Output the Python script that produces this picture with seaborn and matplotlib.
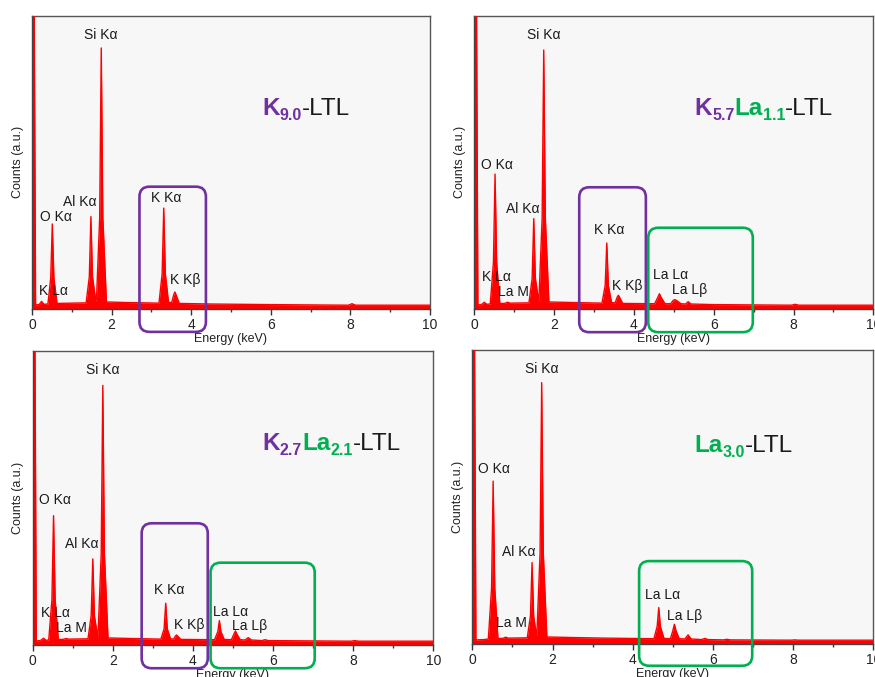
import matplotlib
matplotlib.use("Agg")
import matplotlib.pyplot as plt
import seaborn as sns
import pandas as pd
from matplotlib.patches import FancyBboxPatch
from matplotlib.ticker import MultipleLocator

# ---------------- data (counts in % of axis height) ----------------
energy_p1 = [0.00, 0.05, 0.09, 0.18, 0.24, 0.30, 0.40, 0.47, 0.51, 0.55, 0.63, 1.00,
             1.36, 1.44, 1.48, 1.52, 1.60, 1.62, 1.70, 1.74, 1.78, 1.87, 2.40,
             3.19, 3.27, 3.31, 3.35, 3.43, 3.51, 3.56, 3.59, 3.62, 3.70, 4.50, 6.00,
             7.95, 8.04, 8.13, 10.00]
counts_p1 = [120, 120, 1.4, 1.5, 2.6, 1.6, 1.7, 10.5, 29.0, 10.5, 1.9, 2.0,
             2.1, 11.0, 31.5, 11.0, 3.0, 3.2, 31.0, 89.0, 31.0, 2.4, 2.2,
             2.0, 12.0, 34.4, 12.0, 2.3, 2.2, 4.8, 5.8, 4.8, 1.9, 1.7, 1.5,
             1.3, 1.8, 1.3, 1.3]

energy_p2 = [0.00, 0.05, 0.09, 0.18, 0.25, 0.31, 0.40, 0.48, 0.52, 0.56, 0.64,
             0.76, 0.83, 0.90, 1.37, 1.45, 1.49, 1.53, 1.61, 1.62, 1.70, 1.74, 1.78, 1.87,
             2.50, 3.20, 3.28, 3.32, 3.36, 3.44, 3.53, 3.58, 3.61, 3.64, 3.72,
             4.52, 4.60, 4.64, 4.68, 4.78, 4.92, 4.99, 5.03, 5.08, 5.18,
             5.30, 5.36, 5.43, 6.00, 7.95, 8.04, 8.13, 10.00]
counts_p2 = [120, 120, 1.4, 1.5, 2.3, 1.6, 1.7, 16.0, 46.0, 16.0, 1.9,
             1.9, 2.3, 2.0, 2.1, 10.5, 30.8, 10.5, 3.0, 3.2, 31.0, 88.3, 31.0, 2.4,
             2.2, 2.0, 8.0, 22.5, 8.0, 2.2, 2.1, 4.0, 4.7, 4.0, 1.9,
             1.8, 4.0, 5.2, 4.0, 1.8, 1.8, 3.0, 3.2, 2.8, 1.8,
             1.7, 2.5, 1.7, 1.5, 1.3, 1.6, 1.3, 1.3]

energy_p3 = [0.00, 0.05, 0.09, 0.19, 0.27, 0.33, 0.40, 0.48, 0.52, 0.56, 0.64,
             0.76, 0.83, 0.90, 1.38, 1.46, 1.50, 1.54, 1.62, 1.63, 1.71, 1.75, 1.79, 1.88,
             2.50, 3.20, 3.28, 3.32, 3.36, 3.44, 3.52, 3.56, 3.59, 3.62, 3.70,
             4.54, 4.62, 4.66, 4.70, 4.78, 4.96, 5.02, 5.06, 5.10, 5.18,
             5.30, 5.38, 5.46, 5.72, 5.80, 5.88, 7.95, 8.04, 8.13, 10.00]
counts_p3 = [120, 120, 1.4, 1.5, 2.3, 1.6, 1.7, 15.5, 44.0, 15.5, 1.9,
             1.9, 2.2, 2.0, 2.1, 10.0, 29.3, 10.0, 3.0, 3.2, 31.0, 88.3, 31.0, 2.4,
             2.2, 2.0, 5.5, 14.2, 5.5, 2.1, 2.0, 3.0, 3.4, 3.0, 1.9,
             1.8, 4.5, 8.3, 4.5, 1.9, 1.8, 3.6, 4.8, 3.6, 1.8,
             1.7, 2.5, 1.7, 1.5, 1.8, 1.5, 1.3, 1.5, 1.3, 1.3]

energy_p4 = [0.00, 0.05, 0.09, 0.30, 0.40, 0.48, 0.52, 0.56, 0.64,
             0.76, 0.83, 0.90, 1.37, 1.45, 1.49, 1.53, 1.60, 1.61, 1.69, 1.73, 1.77, 1.86,
             2.50, 3.30, 4.53, 4.61, 4.65, 4.69, 4.78, 4.94, 5.00, 5.04, 5.08, 5.16,
             5.30, 5.38, 5.46, 5.72, 5.80, 5.88, 6.27, 6.35, 6.43, 7.95, 8.04, 8.13, 10.00]
counts_p4 = [120, 120, 1.4, 1.5, 1.7, 19.0, 55.4, 19.0, 1.9,
             1.9, 2.3, 2.0, 2.1, 9.5, 27.7, 9.5, 3.0, 3.2, 31.0, 88.9, 31.0, 2.4,
             2.2, 2.0, 1.8, 6.0, 12.4, 6.0, 1.9, 1.8, 4.5, 6.7, 4.5, 1.8,
             1.7, 3.1, 1.7, 1.5, 1.9, 1.5, 1.4, 1.6, 1.4, 1.3, 1.4, 1.3, 1.3]

# peak labels: (text, energy keV, height %)
labels_p1 = [("Si Kα", 1.73, 93.4), ("O Kα", 0.59, 31.3), ("Al Kα", 1.20, 36.4),
             ("K Kα", 3.36, 38.0), ("K Kβ", 3.85, 9.8), ("K Lα", 0.53, 6.0)]
labels_p2 = [("Si Kα", 1.75, 93.4), ("O Kα", 0.56, 49.1), ("Al Kα", 1.21, 34.2),
             ("K Kα", 3.38, 26.8), ("K Kβ", 3.84, 7.9), ("K Lα", 0.56, 10.9),
             ("La M", 0.98, 5.8), ("La Lα", 4.92, 11.6), ("La Lβ", 5.39, 6.6)]
labels_p3 = [("Si Kα", 1.75, 93.5), ("O Kα", 0.56, 49.3), ("Al Kα", 1.22, 34.4),
             ("K Kα", 3.40, 18.7), ("K Kβ", 3.91, 6.8), ("K Lα", 0.56, 10.8),
             ("La M", 0.97, 5.7), ("La Lα", 4.93, 11.3), ("La Lβ", 5.41, 6.5)]
labels_p4 = [("Si Kα", 1.73, 93.4), ("O Kα", 0.54, 59.4), ("Al Kα", 1.17, 31.3),
             ("La M", 0.98, 7.0), ("La Lα", 4.74, 16.7), ("La Lβ", 5.30, 9.6)]

# sample names: (text, role)
title_p1 = [("K", "K"), ("9.0", "Ksub"), ("-LTL", "plain")]
title_p2 = [("K", "K"), ("5.7", "Ksub"), ("La", "La"), ("1.1", "Lasub"), ("-LTL", "plain")]
title_p3 = [("K", "K"), ("2.7", "Ksub"), ("La", "La"), ("2.1", "Lasub"), ("-LTL", "plain")]
title_p4 = [("La", "La"), ("3.0", "Lasub"), ("-LTL", "plain")]

xticks = [0, 2, 4, 6, 8, 10]

# ---------------- styling / layout ----------------
sns.set_style("ticks")
plt.rcParams['font.family'] = ['Liberation Sans', 'DejaVu Sans']

PURPLE = "#7030a0"
GREEN = "#00b050"
RED = "#ff0000"
W, H = 875, 677

fig = plt.figure(figsize=(W / 100, H / 100), dpi=100)
fig.patch.set_facecolor("white")

# axes rectangles in pixels: left, top, width, height
rects = [(32.0, 15.7, 398.0, 293.3), (474.3, 15.7, 399.0, 293.3),
         (32.7, 351.0, 400.6, 294.0), (472.3, 350.0, 401.0, 294.0)]

panels = [
    (energy_p1, counts_p1, labels_p1, title_p1, (0.578, 0.662),
     [(PURPLE, 2.70, 4.37, -7.8, 41.7)]),
    (energy_p2, counts_p2, labels_p2, title_p2, (0.552, 0.662),
     [(PURPLE, 2.63, 4.30, -7.9, 41.5), (GREEN, 4.36, 6.98, -7.9, 27.7)]),
    (energy_p3, counts_p3, labels_p3, title_p3, (0.573, 0.663),
     [(PURPLE, 2.72, 4.37, -7.9, 41.4), (GREEN, 4.44, 7.04, -7.9, 28.0)]),
    (energy_p4, counts_p4, labels_p4, title_p4, (0.554, 0.654),
     [(GREEN, 4.16, 6.98, -7.4, 28.2)]),
]

role_style = {
    "K": dict(color=PURPLE, weight="bold", size=17.5, dy=0),
    "Ksub": dict(color=PURPLE, weight="bold", size=11.5, dy=-5),
    "La": dict(color=GREEN, weight="bold", size=17.5, dy=0),
    "Lasub": dict(color=GREEN, weight="bold", size=11.5, dy=-5),
    "plain": dict(color="#1a1a1a", weight="normal", size=17.5, dy=0),
}

axes_list = []
for (l, t, w, h), (e, c, labs, title, tpos, boxes) in zip(rects, panels):
    ax = fig.add_axes([l / W, 1 - (t + h) / H, w / W, h / H])
    axes_list.append((ax, w, h, title, tpos))
    ax.set_facecolor("#f7f7f7")
    df = pd.DataFrame({"Energy (keV)": e, "Counts (a.u.)": c})
    ax.fill_between(df["Energy (keV)"], df["Counts (a.u.)"], 0, color=RED, lw=0, zorder=2)
    sns.lineplot(data=df, x="Energy (keV)", y="Counts (a.u.)", ax=ax, color=RED,
                 lw=1.0, sort=False, estimator=None, zorder=3)
    ax.set_xlim(0, 10)
    ax.set_ylim(0, 100)
    ax.set_yticks([])
    ax.set_xticks(xticks)
    ax.set_xticklabels([str(v) for v in xticks])
    ax.xaxis.set_minor_locator(MultipleLocator(1))
    ax.tick_params(axis="x", which="major", direction="out", length=4, width=1,
                   labelsize=10, pad=2.5, color="#333333", labelcolor="#222222")
    ax.tick_params(axis="x", which="minor", direction="out", length=2.5, width=1,
                   color="#333333")
    ax.set_xlabel("Energy (keV)", fontsize=9, labelpad=0.5, color="#222222")
    ax.set_ylabel("Counts (a.u.)", fontsize=9, labelpad=6, color="#222222")
    for side in ["top", "right", "bottom", "left"]:
        ax.spines[side].set_visible(True)
        ax.spines[side].set_linewidth(1.0)
        ax.spines[side].set_color("#444444")
    ax.spines["top"].set_color("#555555")
    ax.spines["right"].set_color("#555555")

    for txt, x, y in labs:
        ax.text(x, y, txt, ha="center", va="center", fontsize=10,
                color="#1a1a1a", zorder=6)

    # rounded highlight boxes (drawn with pixel-correct rounding)
    aspect = (100.0 / h) / (10.0 / w)
    rsize = 10.0 * 10.0 / w
    for col, x0, x1, y0, y1 in boxes:
        p = FancyBboxPatch((x0, y0), x1 - x0, y1 - y0,
                           boxstyle=f"round,pad=0,rounding_size={rsize}",
                           mutation_aspect=aspect, transform=ax.transData,
                           fill=False, ec=col, lw=1.9, clip_on=False, zorder=7)
        ax.add_patch(p)

# sample names built piece by piece on a common baseline
renderer = fig.canvas.get_renderer()
for ax, w, h, title, (fx, fy) in axes_list:
    xp, yp = ax.transAxes.transform((fx, fy))
    for s, role in title:
        st = role_style[role]
        tx = fig.text(xp / W, (yp + st["dy"]) / H, s, ha="left", va="baseline",
                      fontsize=st["size"], fontweight=st["weight"], color=st["color"])
        bb = tx.get_window_extent(renderer)
        xp = bb.x1

fig.savefig("out.png", dpi=100, facecolor="white")
